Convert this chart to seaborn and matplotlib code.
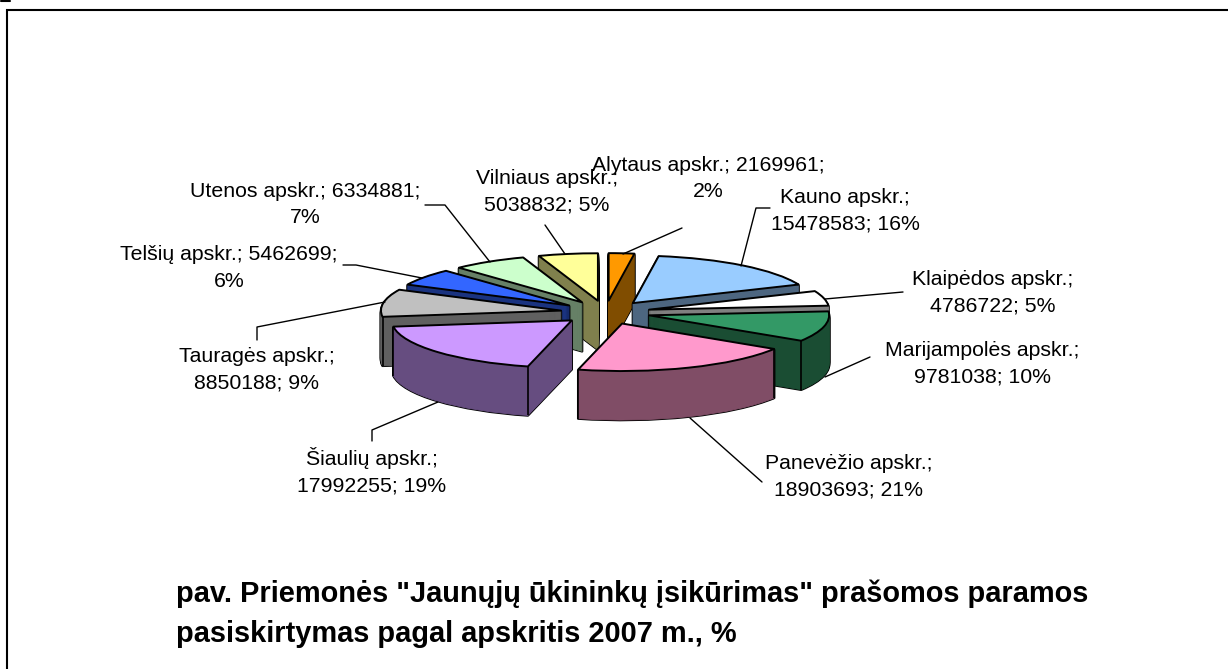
import numpy as np
import matplotlib
matplotlib.use('Agg')
import matplotlib.pyplot as plt
import seaborn as sns

apskritys = ['Alytaus apskr.', 'Kauno apskr.', 'Klaipėdos apskr.', 'Marijampolės apskr.', 'Panevėžio apskr.',
             'Šiaulių apskr.', 'Tauragės apskr.', 'Telšių apskr.', 'Utenos apskr.', 'Vilniaus apskr.']
parama = [2169961, 15478583, 4786722, 9781038, 18903693, 17992255, 8850188, 5462699, 6334881, 5038832]
procentai = [2, 16, 5, 10, 21, 19, 9, 6, 7, 5]
spalvos = ['#FF9900', '#99CCFF', '#FFFFFF', '#339966', '#FF99CC', '#CC99FF', '#C0C0C0', '#3366FF', '#CCFFCC', '#FFFF99']

# kuo didesnis numeris, tuo arciau ziurovo (painter's order)
eile = [1, 3, 5, 7, 9, 8, 6, 4, 2, 0]

# vieta pikseliais
CX, CY = 605.4, 312.5
RX, RY = 180.0, 47.5
GYLIS = 49
W, H = 1228, 669

sns.set_theme(style='white')
plt.rcParams['font.family'] = ['Liberation Sans', 'DejaVu Sans']

fig = plt.figure(figsize=(W / 100, H / 100), dpi=100, facecolor='white')
ax = fig.add_axes([0, 0, 1, 1])

virsus = sns.color_palette(spalvos)
sonas = [tuple(c * 0.5 for c in s) for s in virsus]


def sluoksnis(d, colors, z, lw=0.0, edge='black'):
    # vienas pyrago sluoksnis, pastumtas zemyn per d pikseliu
    wedges, _ = ax.pie(parama, colors=colors, explode=[0.25] * len(parama), startangle=90, counterclock=False,
                       radius=1, center=(0, -d / RY),
                       wedgeprops=dict(edgecolor=edge, linewidth=lw, joinstyle='round'))
    for w, e in zip(wedges, eile):
        w.set_zorder(e * 10 + z)
    return wedges


# juodas kontūras, ant jo tamsūs šonai, viršuje šviesus paviršius
for d in range(GYLIS, 0, -1):
    sluoksnis(d, ['black'] * len(parama), 1, lw=1.8)
for d in range(GYLIS, 0, -1):
    for w in sluoksnis(d, sonas, 2, lw=0.6):
        w.set_edgecolor(w.get_facecolor())
virsutinis = sluoksnis(0, virsus, 4, lw=1.4)

# vertikalios briaunos priekinėje pusėje
for w, e in zip(virsutinis, eile):
    for th in (w.theta1, w.theta2):
        t = np.deg2rad(th)
        if np.sin(t) < -0.05:
            x = w.center[0] + np.cos(t)
            y = w.center[1] + np.sin(t)
            ax.vlines(x, y - GYLIS / RY, y, colors='black', linewidth=1.2, zorder=e * 10 + 3)

ax.set_aspect('auto')
ax.set_xlim(-CX / RX, (W - CX) / RX)
ax.set_ylim((CY - H) / RY, CY / RY)
ax.axis('off')

# užrašai ir rėmelis pikselių koordinatėmis
top = fig.add_axes([0, 0, 1, 1], facecolor='none')
top.set_xlim(0, W)
top.set_ylim(H, 0)
top.axis('off')

top.plot([7, 7, W], [H, 10, 10], color='black', lw=1.5, solid_joinstyle='miter')
top.plot([1, 10], [0.5, 0.5], color='black', lw=1.5)

etikeciu_vietos = [
    (708, 178.5, '{n}; {v};\n{p}%'), (845, 211, '{n};\n{v}; {p}%'), (993, 293, '{n};\n{v}; {p}%'),
    (982, 363.5, '{n};\n{v}; {p}%'), (849, 476.5, '{n};\n{v}; {p}%'), (372, 471, '{n};\n{v}; {p}%'),
    (257, 370, '{n};\n{v}; {p}%'), (229, 268, '{n}; {v};\n{p}%'), (305, 204.5, '{n}; {v};\n{p}%'),
    (547, 191.5, '{n};\n{v}; {p}%'),
]
for n, v, p, (x, y, f) in zip(apskritys, parama, procentai, etikeciu_vietos):
    top.text(x, y, f.format(n=n, v=v, p=p), ha='center', va='center', fontsize=15.3, color='black', linespacing=1.5)

linijos = [
    [(623, 254), (682, 228)], [(741, 266), (756, 208), (770, 208)], [(825, 299), (903, 292)],
    [(825, 377), (870, 357)], [(690, 418), (762, 482)], [(438, 402), (372, 430), (372, 441)],
    [(385, 302), (257, 327), (257, 340)], [(422, 278), (356, 265), (343, 265)],
    [(490, 262), (445, 205), (425, 205)], [(565, 254), (545, 225)],
]
for l in linijos:
    top.plot(*zip(*l), color='black', lw=1.0)

top.text(176, 614, 'pav. Priemonės "Jaunųjų ūkininkų įsikūrimas" prašomos paramos\n'
                   'pasiskirtymas pagal apskritis 2007 m., %',
         ha='left', va='center', fontsize=20.9, fontweight='bold', color='black', linespacing=1.53)

fig.savefig('out.png', dpi=100)
